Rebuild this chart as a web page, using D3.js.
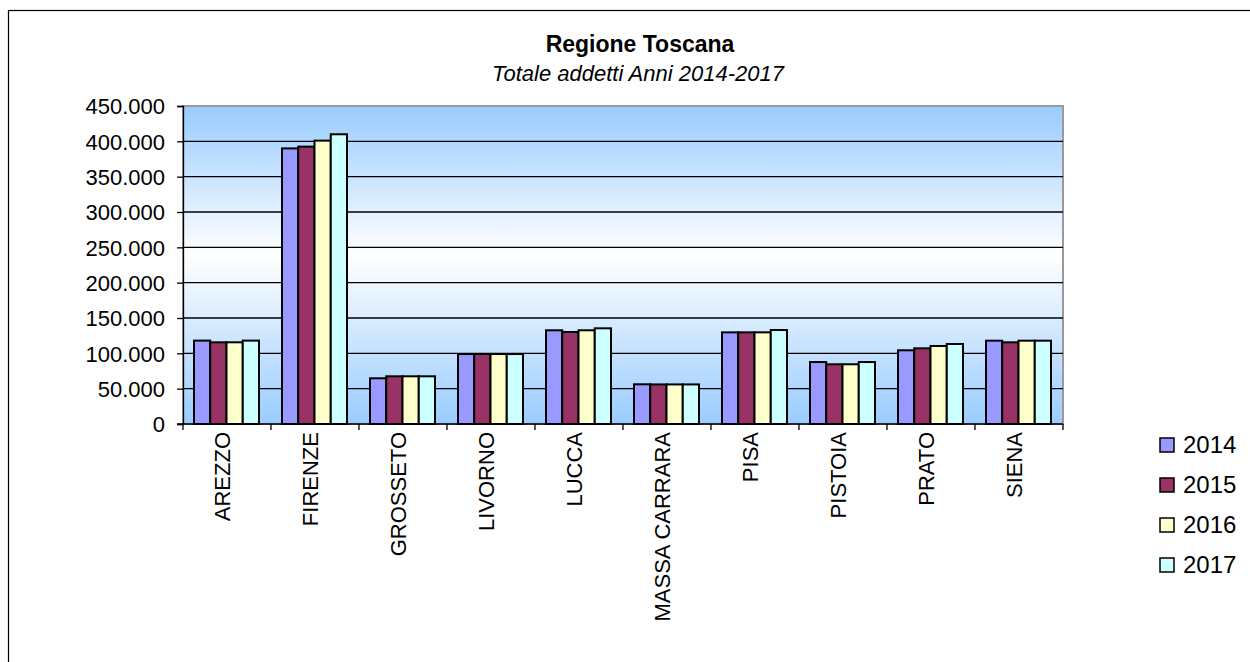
<!DOCTYPE html>
<html lang="it">
<head>
<meta charset="UTF-8">
<title>Regione Toscana - Totale addetti</title>
<style>
  body { margin: 0; background: #fff; }
  svg text { font-family: "Liberation Sans", Arial, sans-serif; fill: #000; }
</style>
</head>
<body>
<svg id="chart" width="1250" height="662"></svg>
<script src="https://d3js.org/d3.v7.min.js"></script>
<script>
var categories = ["AREZZO", "FIRENZE", "GROSSETO", "LIVORNO", "LUCCA",
                  "MASSA CARRARA", "PISA", "PISTOIA", "PRATO", "SIENA"];
var years = ["2014", "2015", "2016", "2017"];
var v2014 = [118000, 390000,  64700, 99000, 132600, 56200, 129700, 87700, 104300, 117900];
var v2015 = [115600, 392500,  67500, 99000, 130200, 56000, 129700, 84500, 107100, 115600];
var v2016 = [115600, 401000,  67500, 99000, 132600, 56000, 129700, 84500, 110400, 117900];
var v2017 = [118000, 410000,  67500, 99000, 135400, 56000, 133000, 87700, 113200, 117900];
var yTicks = [0, 50000, 100000, 150000, 200000, 250000, 300000, 350000, 400000, 450000];
var colors = ["#9999ff", "#993366", "#ffffcc", "#ccffff"];

var series = [v2014, v2015, v2016, v2017];
var rows = categories.map(function(c, i) {
  var r = { cat: c };
  years.forEach(function(y, j) { r[y] = series[j][i]; });
  return r;
});

var svg = d3.select("#chart");
var plotL = 183, plotR = 1063, plotT = 106, plotB = 424;
var labelFont = "22px";

// outer frame
svg.append("rect").attr("x", 8.5).attr("y", 10.5).attr("width", 1260).attr("height", 680)
   .attr("fill", "none").attr("stroke", "#000").attr("stroke-width", 1.2);

// background gradient
var defs = svg.append("defs");
var grad = defs.append("linearGradient").attr("id", "bg").attr("x1", 0).attr("y1", 0).attr("x2", 0).attr("y2", 1);
grad.append("stop").attr("offset", "0%").attr("stop-color", "#99ccff");
grad.append("stop").attr("offset", "47%").attr("stop-color", "#ffffff");
grad.append("stop").attr("offset", "100%").attr("stop-color", "#99ccff");

svg.append("rect").attr("x", plotL).attr("y", plotT).attr("width", plotR - plotL).attr("height", plotB - plotT)
   .attr("fill", "url(#bg)").attr("stroke", "#9a9a9a").attr("stroke-width", 2);

var x0 = d3.scaleBand().domain(categories).range([plotL, plotR]).paddingInner(0).paddingOuter(0);
var x1 = d3.scaleBand().domain(years).range([11, x0.bandwidth() - 12]).padding(0);
var y = d3.scaleLinear().domain([0, 450000]).range([plotB, plotT]);

// gridlines
svg.append("g").selectAll("line").data(yTicks.slice(1, -1)).enter().append("line")
   .attr("x1", plotL).attr("x2", plotR)
   .attr("y1", function(d) { return y(d); }).attr("y2", function(d) { return y(d); })
   .attr("stroke", "#000").attr("stroke-width", 1.3);

// bars
var groups = svg.append("g").selectAll("g").data(rows).enter().append("g")
   .attr("transform", function(d) { return "translate(" + x0(d.cat) + ",0)"; });
groups.selectAll("rect").data(function(d) { return years.map(function(k) { return { key: k, value: d[k] }; }); })
   .enter().append("rect")
   .attr("x", function(d) { return x1(d.key); })
   .attr("width", x1.bandwidth())
   .attr("y", function(d) { return y(d.value); })
   .attr("height", function(d) { return plotB - y(d.value); })
   .attr("fill", function(d, i) { return colors[i]; })
   .attr("stroke", "#000").attr("stroke-width", 2);

// y axis
var yAxis = d3.axisLeft(y).tickValues(yTicks).tickSize(6).tickPadding(12)
   .tickFormat(function(d) { return d === 0 ? "0" : d3.format(",")(d).replace(/,/g, "."); });
var gy = svg.append("g").attr("transform", "translate(" + plotL + ",0)").call(yAxis);
gy.select(".domain").attr("stroke", "#000").attr("stroke-width", 1.3);
gy.selectAll(".tick line").attr("stroke", "#000").attr("stroke-width", 1.3);
gy.selectAll("text").style("font-size", labelFont).style("font-family", "'Liberation Sans', Arial, sans-serif").attr("dy", "0.35em");

// x axis line and ticks
svg.append("line").attr("x1", plotL - 6).attr("x2", plotR).attr("y1", plotB).attr("y2", plotB)
   .attr("stroke", "#000").attr("stroke-width", 1.3);
svg.append("g").selectAll("line").data(categories.concat(["_end"])).enter().append("line")
   .attr("x1", function(d) { return d === "_end" ? plotR : x0(d); })
   .attr("x2", function(d) { return d === "_end" ? plotR : x0(d); })
   .attr("y1", plotB).attr("y2", plotB + 6)
   .attr("stroke", "#000").attr("stroke-width", 1.3);

// category labels
svg.append("g").selectAll("text").data(categories).enter().append("text")
   .attr("transform", function(d) {
     return "translate(" + (x0(d) + x0.bandwidth() / 2 - 5) + "," + (plotB + 8) + ") rotate(-90)";
   })
   .attr("text-anchor", "end").attr("dy", "0.35em")
   .style("font-size", labelFont)
   .text(function(d) { return d; });

// titles
svg.append("text").attr("x", 640).attr("y", 52).attr("text-anchor", "middle")
   .style("font-size", "23px").style("font-weight", "bold").text("Regione Toscana");
svg.append("text").attr("x", 638).attr("y", 81).attr("text-anchor", "middle")
   .style("font-size", "22px").style("font-style", "italic").text("Totale addetti Anni 2014-2017");

// legend
var lg = svg.append("g").selectAll("g").data(years).enter().append("g")
   .attr("transform", function(d, i) { return "translate(1160," + (438 + i * 40) + ")"; });
lg.append("rect").attr("width", 14).attr("height", 14)
   .attr("fill", function(d, i) { return colors[i]; })
   .attr("stroke", "#000").attr("stroke-width", 1.5);
lg.append("text").attr("x", 23).attr("y", 15).style("font-size", "24px").text(function(d) { return d; });
</script>
</body>
</html>
